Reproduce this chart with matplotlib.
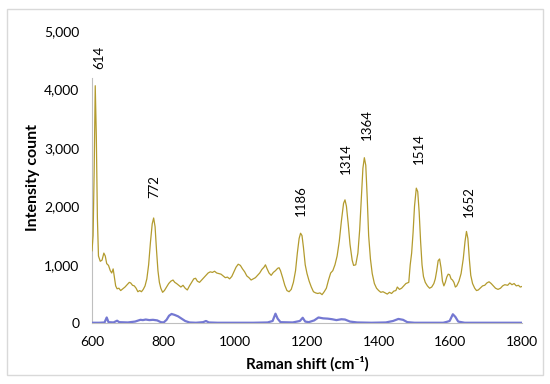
import matplotlib
matplotlib.use('Agg')
import matplotlib.pyplot as plt
from matplotlib.patches import Rectangle
from matplotlib.ticker import FuncFormatter

plt.rcParams['font.family'] = ['Lato', 'DejaVu Sans']

# gold spectrum (sample)
gold_x = [600, 603, 606, 609, 612, 615, 618, 623, 628, 633, 637, 641, 646, 651, 655, 659, 662, 666, 670, 675,
          680, 686, 692, 698, 704, 708, 713, 718, 723, 728, 733, 738, 743, 748, 753, 758, 763, 768, 772, 776,
          780, 784, 788, 792, 797, 802, 808, 814, 820, 826, 831, 836, 842, 848, 854, 860, 866, 872, 878, 884,
          889, 894, 900, 906, 912, 918, 924, 930, 936, 942, 948, 954, 960, 966, 972, 978, 984, 990, 996, 1002,
          1008, 1014, 1020, 1026, 1032, 1038, 1044, 1050, 1056, 1062, 1068, 1074, 1080, 1084, 1088, 1094, 1100,
          1106, 1112, 1118, 1122, 1126, 1132, 1138, 1144, 1150, 1156, 1162, 1168, 1173, 1178, 1182, 1186, 1190,
          1195, 1200, 1206, 1212, 1218, 1224, 1230, 1236, 1242, 1248, 1254, 1260, 1266, 1272, 1278, 1284, 1290,
          1296, 1302, 1306, 1310, 1315, 1320, 1326, 1330, 1336, 1342, 1347, 1352, 1356, 1360, 1364, 1368, 1372,
          1377, 1382, 1388, 1394, 1400, 1406, 1412, 1418, 1424, 1430, 1436, 1442, 1448, 1452, 1458, 1464, 1470,
          1476, 1480, 1484, 1488, 1492, 1496, 1500, 1505, 1509, 1513, 1517, 1521, 1525, 1530, 1536, 1542, 1548,
          1554, 1558, 1562, 1566, 1570, 1574, 1578, 1582, 1586, 1590, 1594, 1598, 1602, 1606, 1610, 1614, 1618,
          1624, 1630, 1636, 1641, 1645, 1649, 1653, 1657, 1662, 1668, 1673, 1678, 1683, 1690, 1696, 1702, 1708,
          1714, 1720, 1726, 1733, 1740, 1746, 1752, 1760, 1766, 1772, 1778, 1784, 1790, 1795, 1800]
gold_y = [1240, 1500, 2600, 4060, 3200, 1800, 1150, 1060, 1080, 1200, 1150, 1020, 990, 900, 860, 930, 800, 640, 590, 600,
          560, 590, 620, 660, 700, 690, 650, 640, 600, 540, 560, 540, 580, 640, 760, 1000, 1380, 1700, 1800, 1650,
          1250, 900, 700, 600, 530, 560, 620, 680, 720, 740, 700, 680, 650, 620, 650, 600, 570, 640, 700, 760,
          770, 720, 700, 740, 780, 820, 860, 880, 870, 890, 860, 850, 840, 810, 780, 790, 760, 800, 880, 960,
          1010, 990, 930, 880, 810, 780, 740, 760, 780, 820, 860, 920, 960, 1000, 940, 860, 820,
          870, 900, 940, 950, 900, 780, 650, 560, 540, 580, 700, 900, 1200, 1450, 1540, 1500, 1300,
          1000, 850, 720, 620, 540, 520, 510, 520, 490, 540, 600, 740, 860, 900, 1000, 1150, 1400,
          1750, 2050, 2110, 2000, 1700, 1350, 1080, 990, 1000, 1200, 1600, 2200, 2650, 2830, 2700, 2150, 1500,
          1100, 850, 680, 600, 560, 530, 540, 520, 500, 530, 510, 550, 560, 620, 580, 600, 640,
          680, 690, 700, 1000, 1200, 1550, 2000, 2310, 2250, 1900, 1400, 1000, 800, 700, 640, 600, 620,
          680, 760, 900, 1070, 1100, 950, 720, 640, 700, 790, 840, 830, 760, 740, 700, 620, 640,
          720, 850, 1100, 1400, 1570, 1450, 1100, 820, 680, 600, 560, 570, 600, 640, 650, 690, 710,
          680, 640, 600, 580, 600, 640, 660, 650, 690, 660, 680, 640, 650, 620, 630]

# blue spectrum (blank)
blue_x = [600, 620, 635, 641, 646, 660, 670, 676, 700, 720, 735, 742, 750, 760, 770, 782, 792, 800, 808, 815,
          822, 830, 840, 850, 860, 872, 890, 910, 918, 926, 950, 1000, 1050, 1090, 1104, 1112, 1118, 1126, 1160,
          1180, 1188, 1195, 1205, 1220, 1232, 1245, 1258, 1270, 1282, 1296, 1306, 1320, 1340, 1380, 1420, 1440,
          1455, 1468, 1480, 1500, 1560, 1580, 1590, 1598, 1607, 1614, 1622, 1640, 1700, 1800]
blue_y = [10, 10, 15, 100, 20, 15, 45, 20, 15, 30, 60, 55, 65, 55, 60, 50, 20, 15, 60, 130,
          160, 145, 120, 80, 40, 15, 10, 20, 40, 15, 10, 10, 10, 15, 40, 165, 80, 20, 15,
          40, 95, 30, 20, 50, 100, 85, 80, 70, 55, 70, 65, 30, 15, 10, 15, 40,
          75, 60, 20, 10, 10, 10, 25, 40, 155, 110, 30, 10, 10, 10]

peak_labels = ['614', '772', '1186', '1314', '1364', '1514', '1652']
peak_label_x = [620, 775, 1182, 1309, 1366, 1511, 1652]
peak_label_y = [4550, 2335, 2090, 2808, 3390, 2980, 2078]

fig = plt.figure(figsize=(5.5, 3.84), dpi=100)
fig.patches.append(Rectangle((0.0127, 0.0234), 0.9745, 0.953, transform=fig.transFigure,
                             fill=False, edgecolor='#D9D9D9', linewidth=1))
ax = fig.add_axes([0.1673, 0.158, 0.7818, 0.762])

ax.plot(gold_x, gold_y, color='#B39B2E', linewidth=0.9, zorder=3)
ax.plot(blue_x, blue_y, color='#7478D2', linewidth=1.6, zorder=4)

for lab, lx, ly in zip(peak_labels, peak_label_x, peak_label_y):
    ax.text(lx, ly, lab, rotation=90, ha='center', va='center', fontsize=9.5)

ax.set_xlim(600, 1800)
ax.set_ylim(0, 5000)
ax.set_xticks(range(600, 1801, 200))
ax.set_yticks(range(0, 5001, 1000))
ax.yaxis.set_major_formatter(FuncFormatter(lambda v, p: f'{int(v):,}'))
ax.tick_params(length=0, labelsize=10, pad=9)

for s in ['top', 'right']:
    ax.spines[s].set_visible(False)
ax.spines['left'].set_color('#BFBFBF')
ax.spines['left'].set_bounds(0, 4200)
ax.spines['bottom'].set_color('#BFBFBF')

ax.set_xlabel('Raman shift (cm\u207b\u00b9)', fontsize=11, fontweight='bold', labelpad=6)
ax.set_ylabel('Intensity count', fontsize=11.5, fontweight='bold', labelpad=3)

fig.savefig('out.png', dpi=100)
